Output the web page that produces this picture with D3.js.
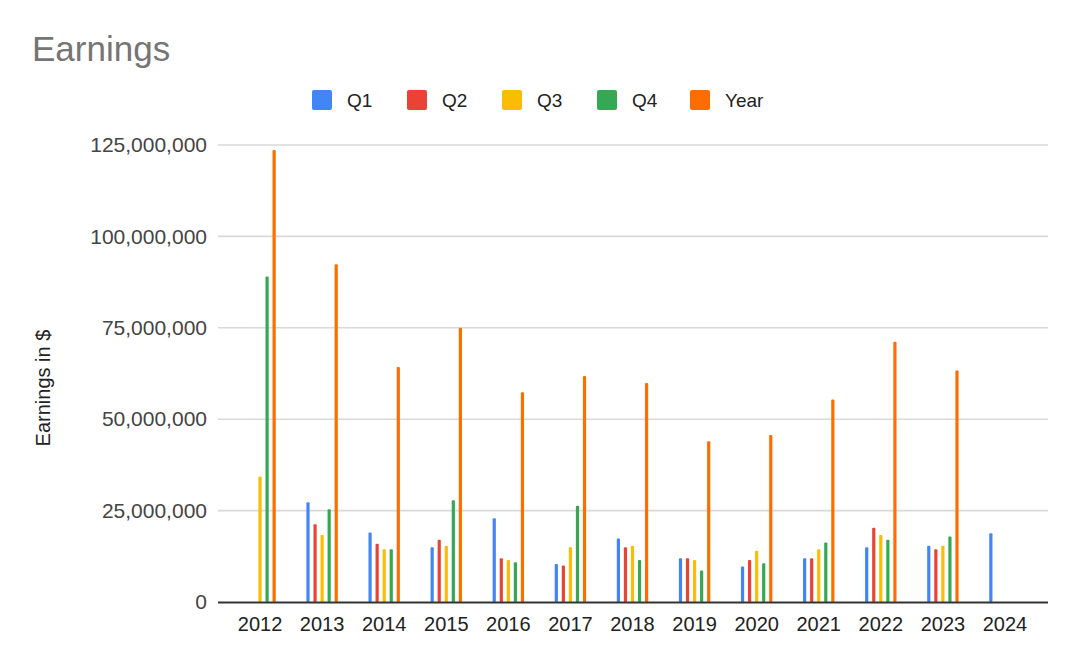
<!DOCTYPE html>
<html><head><meta charset="utf-8">
<script src="https://cdn.jsdelivr.net/npm/d3@7"></script>
<style>body{margin:0;background:#fff}svg{display:block}text{font-family:"Liberation Sans",Arial,sans-serif}</style>
</head><body><svg id="c" width="1080" height="667"></svg>
<script>
const years = ["2012","2013","2014","2015","2016","2017","2018","2019","2020","2021","2022","2023","2024"];
const seriesNames = ["Q1","Q2","Q3","Q4","Year"];
const colors = ["#4285F4","#EA4335","#FBBC04","#34A853","#FF6D01"];
const q1   = [null,27.3e6,19.0e6,15.0e6,22.9e6,10.4e6,17.4e6,12.0e6,9.7e6,12.0e6,15.0e6,15.4e6,18.8e6];
const q2   = [null,21.3e6,15.9e6,17.0e6,12.0e6,10.0e6,15.0e6,12.0e6,11.5e6,12.0e6,20.3e6,14.4e6,null];
const q3   = [34.3e6,18.3e6,14.4e6,15.4e6,11.5e6,15.0e6,15.4e6,11.5e6,14.0e6,14.4e6,18.3e6,15.4e6,null];
const q4   = [89.0e6,25.4e6,14.4e6,27.8e6,10.9e6,26.3e6,11.5e6,8.6e6,10.6e6,16.3e6,17.0e6,17.9e6,null];
const yearTotal = [123.6e6,92.4e6,64.3e6,75.0e6,57.4e6,61.8e6,59.9e6,44.0e6,45.7e6,55.4e6,71.2e6,63.3e6,null];
const yTicks = [0,25e6,50e6,75e6,100e6,125e6];
const allSeries = [q1,q2,q3,q4,yearTotal];

const svg = d3.select("#c");
const x = d3.scaleBand().domain(years).range([229,1036]);
const xs = d3.scaleBand().domain(seriesNames).range([0, x.bandwidth()]).paddingOuter(1.9);
const y = d3.scaleLinear().domain([0,125e6]).range([602,145]);

// title
svg.append("text").attr("x",32).attr("y",61).attr("font-size",35).attr("fill","#757575").text("Earnings");

// gridlines
svg.append("g").selectAll("line").data(yTicks.slice(1)).join("line")
  .attr("x1",218).attr("x2",1048).attr("y1",d=>y(d)).attr("y2",d=>y(d))
  .attr("stroke","#d9d9d9").attr("stroke-width",1.6);

// y axis
const yAxis = d3.axisLeft(y).tickValues(yTicks).tickFormat(d3.format(",")).tickSize(0).tickPadding(0);
const ga = svg.append("g").attr("transform","translate(207,0)").call(yAxis);
ga.select(".domain").remove();
ga.selectAll("text").attr("font-size",21).attr("fill","#444").attr("font-family","'Liberation Sans',Arial,sans-serif");

// y title
svg.append("text").attr("transform","translate(50,388) rotate(-90)").attr("text-anchor","middle")
  .attr("font-size",20).attr("fill","#222").text("Earnings in $");

// bars
const data = [];
years.forEach((yr,i)=>seriesNames.forEach((s,j)=>{ if(allSeries[j][i]!=null) data.push({yr,s,j,v:allSeries[j][i]}); }));
svg.append("g").selectAll("rect").data(data).join("rect")
  .attr("x",d=>x(d.yr)+xs(d.s)+xs.bandwidth()/2-1.6).attr("width",3.2)
  .attr("y",d=>y(d.v)).attr("height",d=>y(0)-y(d.v))
  .attr("rx",1).attr("fill",d=>colors[d.j]);

// baseline
svg.append("line").attr("x1",218).attr("x2",1048).attr("y1",602.5).attr("y2",602.5).attr("stroke","#333").attr("stroke-width",2);

// x axis
const xAxis = d3.axisBottom(x).tickSize(0).tickPadding(0);
const gx = svg.append("g").attr("transform","translate(0,631)").call(xAxis);
gx.select(".domain").remove();
gx.selectAll("text").attr("font-size",20).attr("fill","#222").attr("dy","0").attr("font-family","'Liberation Sans',Arial,sans-serif");

// legend
const legX = [312,407,502,597,690];
const lg = svg.append("g").selectAll("g").data(seriesNames).join("g")
  .attr("transform",(d,i)=>`translate(${legX[i]},90)`);
lg.append("rect").attr("width",20).attr("height",20).attr("rx",2).attr("fill",(d,i)=>colors[i]);
lg.append("text").attr("x",35).attr("y",17).attr("font-size",19).attr("fill","#222").text(d=>d);
</script></body></html>
